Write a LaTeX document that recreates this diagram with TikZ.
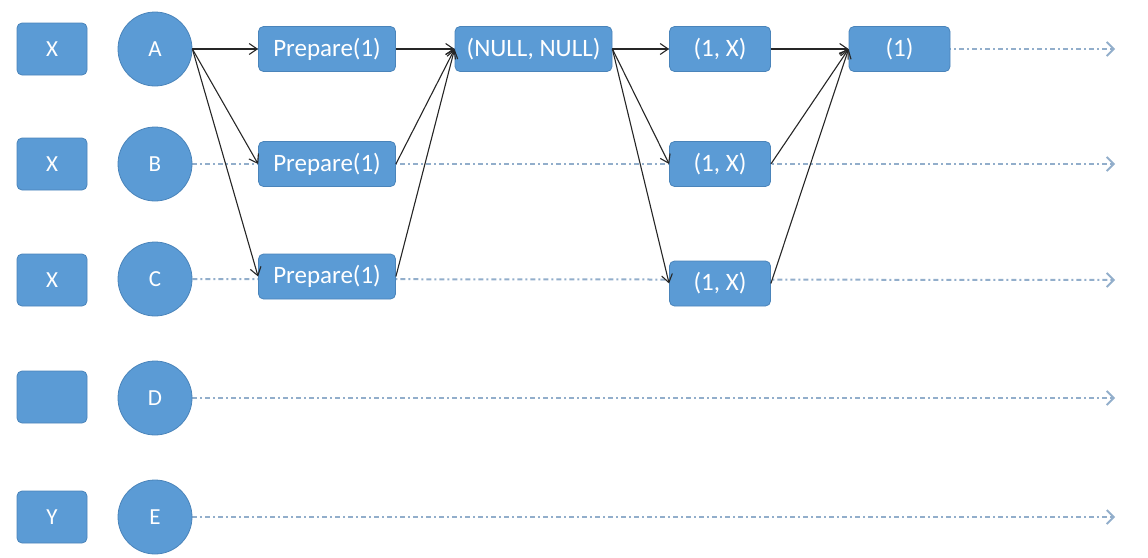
\documentclass[tikz,border=0pt]{standalone}
\usepackage{fontspec}
\setmainfont{Carlito}
\usetikzlibrary{arrows.meta,backgrounds}
\definecolor{boxfill}{HTML}{5B9BD5}
\definecolor{boxline}{HTML}{4A84BA}
\definecolor{timeline}{HTML}{92AECB}
\tikzset{
  tag/.style={draw=boxline, line width=0.8pt, fill=boxfill, rounded corners=5pt,
    minimum width=70pt, minimum height=52pt, inner sep=0pt,
    text=white, font=\fontsize{23}{23}\selectfont},
  proc/.style={draw=boxline, line width=0.8pt, fill=boxfill, circle,
    minimum size=74pt, inner sep=0pt,
    text=white, font=\fontsize{23}{23}\selectfont},
  msg/.style={draw=boxline, line width=0.8pt, fill=boxfill, rounded corners=5pt,
    minimum height=45pt, inner sep=0pt,
    text=white, font=\fontsize{25}{25}\selectfont},
  timeflow/.style={draw=timeline, line width=2pt,
    dash pattern=on 5pt off 3pt on 2pt off 3pt,
    -{Straight Barb[length=7pt,width=14pt,line width=1.8pt]}},
  link/.style={draw=black!85, line width=1.1pt,
    -{Straight Barb[length=8pt,width=11pt,line width=1.1pt]}}
}
\begin{document}
\begin{tikzpicture}[x=1pt,y=-1pt]
\useasboundingbox (0,0) rectangle (1148,557);

% left column: values and processes
\node[tag] (xa) at (52,49) {X};
\node[tag] (xb) at (52,164) {X};
\node[tag] (xc) at (52,280) {X};
\node[tag] (xd) at (52,397) {};
\node[tag] (xe) at (52,517) {Y};

\node[proc] (pa) at (155,49) {A};
\node[proc] (pb) at (155,164) {B};
\node[proc] (pc) at (155,279) {C};
\node[proc] (pd) at (155,398) {D};
\node[proc] (pe) at (155,517) {E};

% messages
\node[msg, minimum width=137pt] (prA) at (327,49) {Prepare(1)};
\node[msg, minimum width=137pt] (prB) at (327,164) {Prepare(1)};
\node[msg, minimum width=137pt] (prC) at (327,276.5) {Prepare(1)};
\node[msg, minimum width=157pt] (nn) at (533.5,49) {(NULL, NULL)};
\node[msg, minimum width=101pt] (oxA) at (720,49) {(1, X)};
\node[msg, minimum width=101pt] (oxB) at (720,164) {(1, X)};
\node[msg, minimum width=101pt] (oxC) at (720,283.5) {(1, X)};
\node[msg, minimum width=101pt] (one) at (899.5,49) {(1)};

% timeline ends
\coordinate (ea) at (1115,49);
\coordinate (eb) at (1115,164);
\coordinate (ec) at (1115,280);
\coordinate (ed) at (1115,398);
\coordinate (ee) at (1115,517);

\begin{scope}[on background layer]
  \draw[timeflow] (pa.east) -- (ea);
  \draw[timeflow] (pb.east) -- (eb);
  \draw[timeflow] (pc.east) -- (ec);
  \draw[timeflow] (pd.east) -- (ed);
  \draw[timeflow] (pe.east) -- (ee);
\end{scope}

% message exchange
\draw[link] (pa.east) -- (prA.west);
\draw[link] (pa.east) -- (prB.west);
\draw[link] (pa.east) -- (prC.west);
\draw[link] (prA.east) -- (nn.west);
\draw[link] (prB.east) -- (nn.west);
\draw[link] (prC.east) -- (nn.west);
\draw[link] (nn.east) -- (oxA.west);
\draw[link] (nn.east) -- (oxB.west);
\draw[link] (nn.east) -- (oxC.west);
\draw[link] (oxA.east) -- (one.west);
\draw[link] (oxB.east) -- (one.west);
\draw[link] (oxC.east) -- (one.west);
\end{tikzpicture}
\end{document}
